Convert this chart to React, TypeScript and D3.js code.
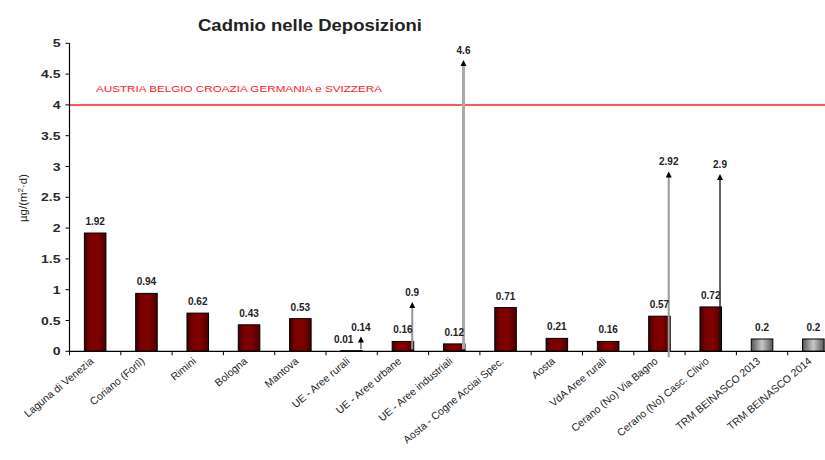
import React from "react";
import * as d3 from "d3";

const categories = [
  "Laguna di Venezia",
  "Coriano (Forlì)",
  "Rimini",
  "Bologna",
  "Mantova",
  "UE - Aree rurali",
  "UE - Aree urbane",
  "UE - Aree industriali",
  "Aosta - Cogne Acciai Spec.",
  "Aosta",
  "VdA Aree rurali",
  "Cerano (No) Via Bagno",
  "Cerano (No) Casc. Clivio",
  "TRM BEINASCO 2013",
  "TRM BEINASCO 2014",
];
const values = [1.92, 0.94, 0.62, 0.43, 0.53, 0.01, 0.16, 0.12, 0.71, 0.21, 0.16, 0.57, 0.72, 0.2, 0.2];
const barKinds = ["red", "red", "red", "red", "red", "red", "red", "red", "red", "red", "red", "red", "red", "gray", "gray"];
const labelShift = [0, 0, 0, 0, 0, -8, 0, 0, 0, 0, 0, 0, 0, 0, 0];

const arrowCategories = ["UE - Aree rurali", "UE - Aree urbane", "UE - Aree industriali", "Cerano (No) Via Bagno", "Cerano (No) Casc. Clivio"];
const arrowValues = [0.14, 0.9, 4.6, 2.92, 2.9];
const arrowTips = [0.24, 0.8, 4.73, 2.92, 2.88];
const arrowColors = ["#444", "#999", "#aaa", "#999", "#111"];
const arrowWidths = [1.2, 2, 3, 2, 1.3];

const yTicks = [0, 0.5, 1, 1.5, 2, 2.5, 3, 3.5, 4, 4.5, 5];
const limitValue = 4;
const limitLabel = "AUSTRIA BELGIO CROAZIA GERMANIA e SVIZZERA";
const title = "Cadmio nelle Deposizioni";

const W = 825;
const H = 460;
const FONT = "'Liberation Sans', Arial, sans-serif";

export default function App() {
  const left = 69.5;
  const x = d3.scaleBand<string>().domain(categories).range([left, 839]).paddingInner(0).paddingOuter(0);
  const y = d3.scaleLinear().domain([0, 5]).range([351.3, 43.3]);
  const bw = x.bandwidth() * 0.42;
  const fmt = (v: number) => String(v);

  return (
    <svg width={W} height={H} style={{ position: "absolute", left: 0, top: 0, background: "#fff" }} fontFamily={FONT}>
      <defs>
        <linearGradient id="gRed" x1="0" x2="1" y1="0" y2="0">
          <stop offset="0" stopColor="#3d0000" />
          <stop offset="0.25" stopColor="#7a0000" />
          <stop offset="0.6" stopColor="#820000" />
          <stop offset="1" stopColor="#4a0000" />
        </linearGradient>
        <linearGradient id="gGray" x1="0" x2="1" y1="0" y2="0">
          <stop offset="0" stopColor="#555" />
          <stop offset="0.5" stopColor="#c8c8c8" />
          <stop offset="1" stopColor="#555" />
        </linearGradient>
      </defs>
      <rect width={W} height={H} fill="#fff" />

      <text x={198} y={31} fontSize={16.5} fontWeight="bold" fill="#222" textLength={224} lengthAdjust="spacingAndGlyphs">
        {title}
      </text>

      {/* limit line */}
      <line x1={left} x2={W} y1={y(limitValue)} y2={y(limitValue)} stroke="#ff2020" strokeWidth={1.5} />
      <text x={96} y={92} fontSize={9} fill="#ff2020" textLength={286} lengthAdjust="spacingAndGlyphs">
        {limitLabel}
      </text>

      {/* y axis */}
      <line x1={left} x2={left} y1={y(5)} y2={y(0)} stroke="#000" strokeWidth={1.2} />
      {yTicks.map((t) => (
        <g key={t}>
          <line x1={left - 4} x2={left} y1={y(t)} y2={y(t)} stroke="#000" />
          <text
            transform={`translate(60.5,${y(t) + 4}) scale(1.22,1)`}
            textAnchor="end"
            fontSize={11.5}
            fontWeight="bold"
            fill="#2a2a2a"
          >
            {fmt(t)}
          </text>
        </g>
      ))}
      <text transform={`translate(27,${198}) rotate(-90)`} textAnchor="middle" fontSize={11.5} fill="#222">
        µg/(m<tspan dy={-4} fontSize={8}>2</tspan>
        <tspan dy={4}>·d)</tspan>
      </text>

      {/* bars */}
      {categories.map((c, i) => {
        const cx = (x(c) as number) + x.bandwidth() / 2;
        return (
          <rect
            key={c}
            x={cx - bw / 2}
            y={y(values[i])}
            width={bw}
            height={y(0) - y(values[i])}
            fill={barKinds[i] === "red" ? "url(#gRed)" : "url(#gGray)"}
            stroke="#000"
            strokeWidth={1}
          />
        );
      })}

      {/* x axis */}
      <line x1={left} x2={W} y1={y(0)} y2={y(0)} stroke="#000" strokeWidth={1.2} />
      {categories.map((c) => (
        <line key={"t" + c} x1={x(c) as number} x2={x(c) as number} y1={y(0)} y2={y(0) + 4} stroke="#000" />
      ))}

      {/* arrows */}
      {arrowCategories.map((c, i) => {
        const ax = (x(c) as number) + x.bandwidth() / 2 + bw / 2 - 1.5;
        const tip = y(arrowTips[i]);
        const bottom = c === "Cerano (No) Via Bagno" ? y(0) + 6 : y(0) - 2;
        return (
          <g key={"a" + c}>
            <line x1={ax} x2={ax} y1={bottom} y2={tip + 5} stroke={arrowColors[i]} strokeWidth={arrowWidths[i]} />
            <path d={`M${ax - 3},${tip + 6} L${ax + 3},${tip + 6} L${ax},${tip} Z`} fill="#000" />
            <text x={ax} y={tip - 6} textAnchor="middle" fontSize={10} fontWeight="bold" fill="#222">
              {fmt(arrowValues[i])}
            </text>
          </g>
        );
      })}

      {/* bar labels */}
      {categories.map((c, i) => {
        const cx = (x(c) as number) + x.bandwidth() / 2 + labelShift[i];
        return (
          <text key={"l" + c} x={cx} y={y(values[i]) - 8} textAnchor="middle" fontSize={10} fontWeight="bold" fill="#222">
            {fmt(values[i])}
          </text>
        );
      })}

      {/* x labels */}
      {categories.map((c) => {
        const cx = (x(c) as number) + x.bandwidth() / 2;
        return (
          <text
            key={"x" + c}
            transform={`translate(${cx - 1},${y(0) + 11}) rotate(-40)`}
            textAnchor="end"
            fontSize={10.5}
            fill="#222"
          >
            {c}
          </text>
        );
      })}
    </svg>
  );
}
